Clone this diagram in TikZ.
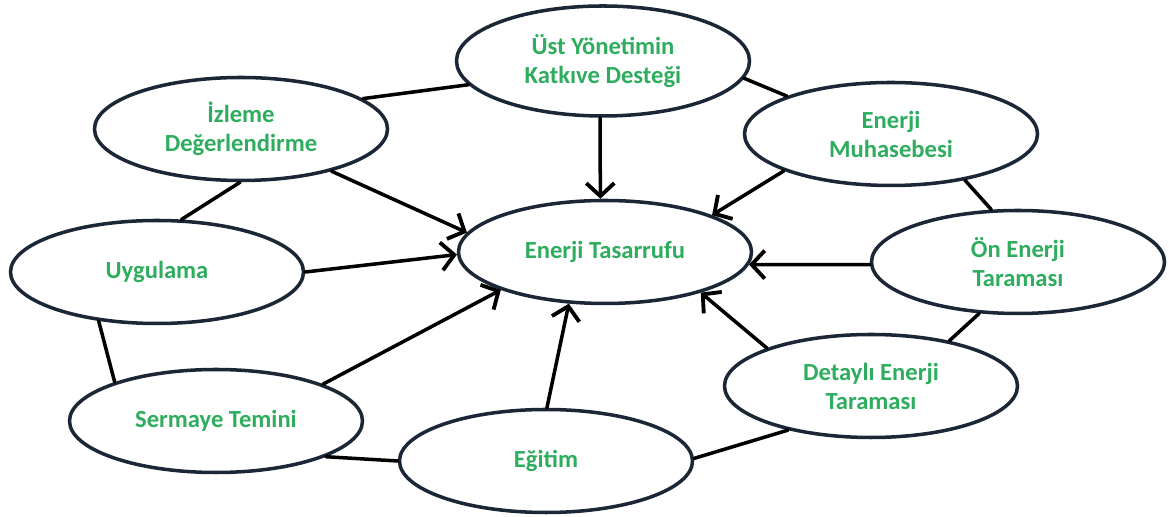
\documentclass[tikz,border=0pt]{standalone}
\usepackage{fontspec}
\setmainfont{Carlito}
\usepackage{tikz}
\usetikzlibrary{shapes.geometric,arrows.meta}
\definecolor{rim}{HTML}{1B2636}
\definecolor{leaf}{HTML}{2EAD5E}
\definecolor{ink}{HTML}{000000}
\tikzset{
  bubble/.style={ellipse, draw=rim, line width=2pt, fill=white, minimum width=5.86cm, minimum height=2.06cm, inner sep=0pt, align=center, text=leaf, font=\fontsize{14}{16.5}\selectfont\bfseries},
  link/.style={draw=ink, line width=2pt, line cap=round},
  feed/.style={link, -{Straight Barb[length=2.6mm,width=5.6mm,line width=2.2pt]}},
}

\begin{document}
\begin{tikzpicture}
  \useasboundingbox (0,0) rectangle (23.38,10.34);
  \node[bubble, minimum height=2.2cm] (ust) at (12.06,9.12) {Üst Yönetimin\\Katkıve Desteği};
  \node[bubble] (izleme) at (4.82,7.76) {İzleme\\Değerlendirme};
  \node[bubble] (muhasebe) at (17.82,7.66) {Enerji\\Muhasebesi};
  \node[bubble] (tasarruf) at (12.10,5.30) {Enerji Tasarrufu};
  \node[bubble] (uygulama) at (3.14,4.90) {Uygulama};
  \node[bubble] (ontarama) at (20.36,5.10) {Ön Enerji\\Taraması};
  \node[bubble] (sermaye) at (4.32,1.92) {Sermaye Temini};
  \node[bubble] (detayli) at (17.42,2.62) {Detaylı Enerji\\Taraması};
  \node[bubble] (egitim) at (10.92,1.12) {Eğitim};

  \draw[link] (izleme.14) -- (ust.190);
  \draw[link] (ust.-7) -- (muhasebe.160);
  \draw[link] (izleme.269) -- (uygulama.65);
  \draw[link] (muhasebe.-32) -- (ontarama.117);
  \draw[link] (uygulama.220) -- (sermaye.159);
  \draw[link] (ontarama.233) -- (detayli.30);
  \draw[link] (sermaye.-18) -- (egitim.180);
  \draw[link] (egitim.1) -- (detayli.208);

  \draw[feed] (ust.267) -- (tasarruf.95);
  \draw[feed] (izleme.-25) -- (tasarruf.172);
  \draw[feed] (uygulama.0) -- (tasarruf.181);
  \draw[feed] (sermaye.19) -- (tasarruf.200);
  \draw[feed] (egitim.89) -- (tasarruf.235);
  \draw[feed] (detayli.160) -- (tasarruf.-23);
  \draw[feed] (ontarama.181) -- (tasarruf.-5);
  \draw[feed] (muhasebe.199) -- (tasarruf.19);
\end{tikzpicture}
\end{document}
